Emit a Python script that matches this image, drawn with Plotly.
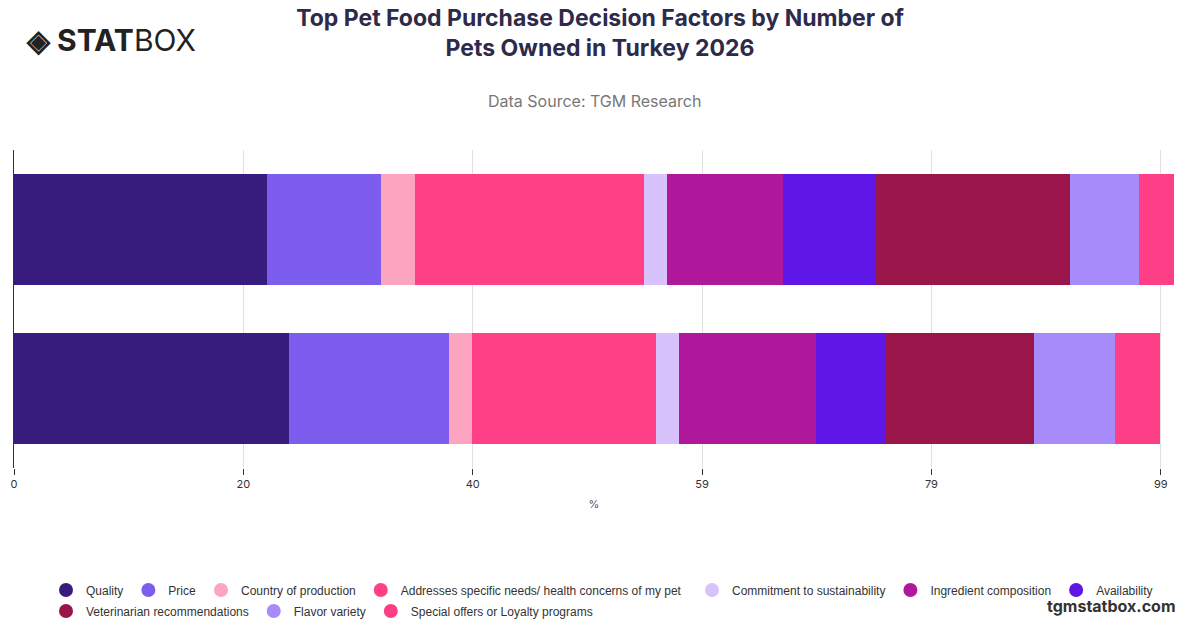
import plotly.graph_objects as go

categories = ["2+ pets", "1 pet"]
factors = ["Quality", "Price", "Country of production",
           "Addresses specific needs/ health concerns of my pet",
           "Commitment to sustainability", "Ingredient composition", "Availability",
           "Veterinarian recommendations", "Flavor variety", "Special offers or Loyalty programs"]
values = {
    "Quality": [23.8, 21.9],
    "Price": [13.9, 9.9],
    "Country of production": [2.0, 2.9],
    "Addresses specific needs/ health concerns of my pet": [15.9, 19.9],
    "Commitment to sustainability": [2.0, 2.0],
    "Ingredient composition": [11.9, 10.0],
    "Availability": [6.0, 8.0],
    "Veterinarian recommendations": [12.9, 16.9],
    "Flavor variety": [7.0, 6.0],
    "Special offers or Loyalty programs": [3.9, 3.0],
}
colors = ["#371c7e", "#7c5ded", "#fda4c0", "#ff3f86", "#d8c2fb",
          "#b0189c", "#5e17e6", "#9a1549", "#a78bfa", "#fe3f87"]
tickvals = [0, 19.87, 39.74, 59.61, 79.48, 99.35]
ticktext = ["0", "20", "40", "59", "79", "99"]
legend_of = ["legend"] * 4 + ["legend2"] * 3 + ["legend3"] * 3

fig = go.Figure()
for f, c in zip(factors, colors):
    fig.add_trace(go.Bar(y=categories, x=values[f], orientation="h", name=f,
                         marker=dict(color=c, line=dict(width=0)), showlegend=False))
for f, c, lg in zip(factors, colors, legend_of):
    fig.add_trace(go.Scatter(x=[None], y=[None], mode="markers", name=f, legend=lg,
                             marker=dict(color=c, size=14, symbol="circle")))

T, B = 150, 160
ph = 628 - T - B
leg_common = dict(orientation="h", xanchor="left", yanchor="middle",
                  traceorder="normal", font=dict(size=12, color="#333", family="Liberation Sans, Arial, sans-serif"),
                  bgcolor="rgba(0,0,0,0)", itemwidth=30)
fig.update_layout(
    width=1200, height=628, barmode="stack", bargap=0.3,
    paper_bgcolor="white", plot_bgcolor="white",
    font=dict(family="Inter, Open Sans, sans-serif", color="#333"),
    margin=dict(l=14, r=26, t=T, b=B, autoexpand=False),
    hovermode=False,
    title=dict(text="<b>Top Pet Food Purchase Decision Factors by Number of<br>Pets Owned in Turkey 2026</b>",
               x=0.5, xanchor="center", y=1 - 26 / 628, yanchor="top",
               font=dict(size=23, color="#2d2a4a")),
    xaxis=dict(range=[0, 100.5], tickvals=tickvals, ticktext=ticktext,
               showgrid=True, gridcolor="#e0e0e0", zeroline=False,
               ticks="outside", ticklen=6, tickcolor="#333",
               tickfont=dict(size=11, color="#333"),
               title=dict(text="%", font=dict(size=11, color="#555"), standoff=10)),
    yaxis=dict(showticklabels=False, showline=True, linecolor="#333", linewidth=1,
               showgrid=False, type="category"),
    legend=dict(x=(46 - 14) / 1160, y=-(590 - 468) / ph, **leg_common),
    legend2=dict(x=(692 - 14) / 1160, y=-(590 - 468) / ph, **leg_common),
    legend3=dict(x=(46 - 14) / 1160, y=-(611 - 468) / ph, **leg_common),
    annotations=[
        dict(text="Data Source: TGM Research", x=0.5, xref="paper", y=1 + (T - 101) / ph, yref="paper",
             showarrow=False, font=dict(size=16, color="#777"), xanchor="center", yanchor="middle"),
        dict(text="<b>◈ STAT</b>BOX", xref="paper", yref="paper", x=(24 - 14) / 1160, y=1 + (T - 40) / ph,
             showarrow=False, font=dict(size=30, color="#222"), xanchor="left", yanchor="middle"),
        dict(text="<b>tgmstatbox.com</b>", xref="paper", yref="paper", x=1.0 + 4 / 1160,
             y=-(606 - 468) / ph, showarrow=False,
             font=dict(size=16, color="#333"), xanchor="right", yanchor="middle"),
    ],
)
fig.write_html("out.html", config={"displayModeBar": False},
               post_script="document.body.style.margin='0';")
